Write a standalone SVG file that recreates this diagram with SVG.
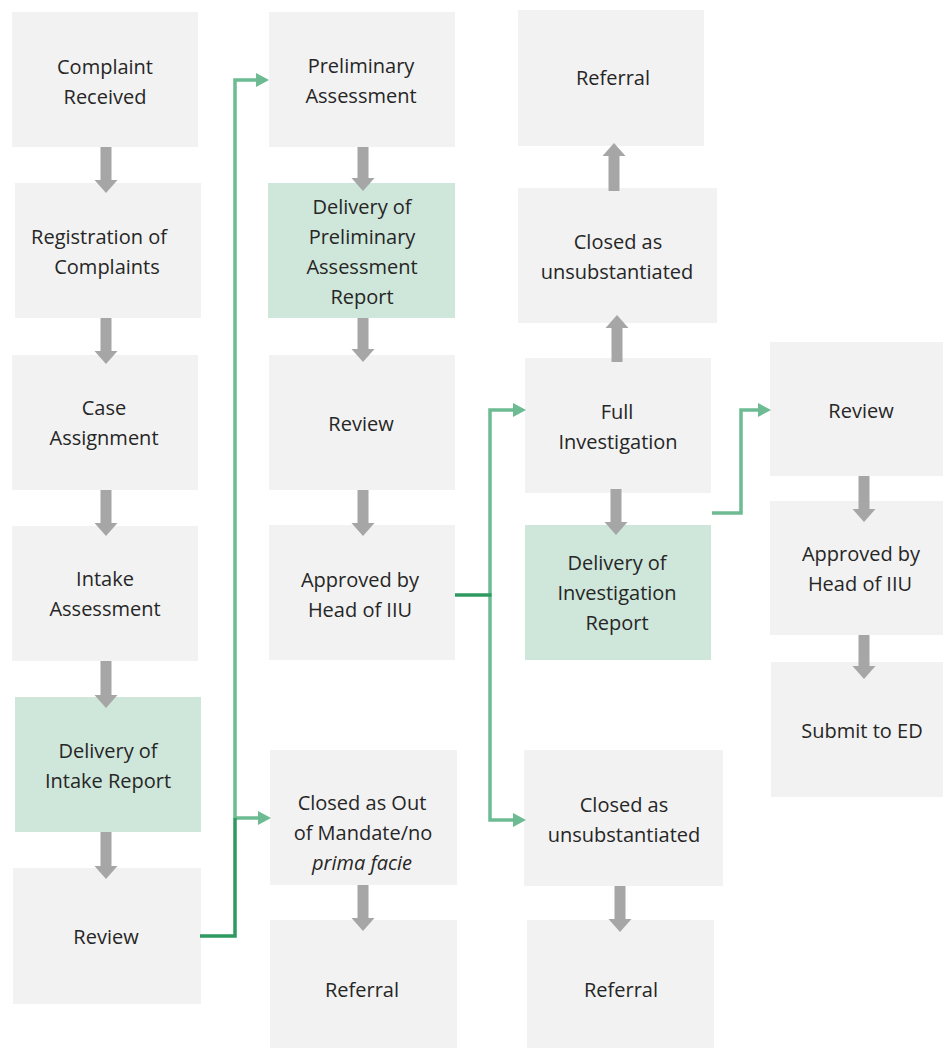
<svg xmlns="http://www.w3.org/2000/svg" width="943" height="1048" viewBox="0 0 943 1048">
<style>
.box{fill:#f2f2f2}
.grn{fill:#cfe6da}
.t{font-family:"Open Sans","Noto Sans","Liberation Sans",sans-serif;font-size:20px;fill:#262626;text-anchor:middle}
.ar{fill:#a6a6a6}
.cl{fill:none;stroke:#6dbb92;stroke-width:3.5}
.cd{fill:none;stroke:#2e9a60;stroke-width:3.5}
</style>
<defs>
<marker id="gh" markerUnits="userSpaceOnUse" markerWidth="14" markerHeight="14" refX="0" refY="7" orient="auto">
<path d="M0,0 L13,7 L0,14 Z" fill="#6dbb92"/>
</marker>
</defs>
<rect width="943" height="1048" fill="#ffffff"/>

<g id="n1"><rect class="box" x="12" y="12" width="186" height="135"/><text class="t" x="105" y="74">Complaint</text><text class="t" x="105" y="104">Received</text></g>
<g id="n2"><rect class="box" x="15" y="183" width="186" height="135"/><text class="t" x="99" y="244">Registration of</text><text class="t" x="107" y="274">Complaints</text></g>
<g id="n3"><rect class="box" x="12" y="355" width="186" height="135"/><text class="t" x="104" y="415">Case</text><text class="t" x="104" y="445">Assignment</text></g>
<g id="n4"><rect class="box" x="12" y="526" width="186" height="135"/><text class="t" x="105" y="586">Intake</text><text class="t" x="105" y="616">Assessment</text></g>
<g id="n5"><rect class="grn" x="15" y="697" width="186" height="135"/><text class="t" x="108" y="758">Delivery of</text><text class="t" x="108" y="788">Intake Report</text></g>
<g id="n6"><rect class="box" x="13" y="868" width="188" height="136"/><text class="t" x="106" y="944">Review</text></g>

<g id="n7"><rect class="box" x="269" y="12" width="186" height="135"/><text class="t" x="361" y="73">Preliminary</text><text class="t" x="361" y="103">Assessment</text></g>
<g id="n8"><rect class="grn" x="268" y="183" width="187" height="135"/><text class="t" x="362" y="214">Delivery of</text><text class="t" x="362" y="244">Preliminary</text><text class="t" x="362" y="274">Assessment</text><text class="t" x="362" y="304">Report</text></g>
<g id="n9"><rect class="box" x="269" y="355" width="186" height="135"/><text class="t" x="361" y="431">Review</text></g>
<g id="n10"><rect class="box" x="269" y="525" width="186" height="135"/><text class="t" x="360" y="587">Approved by</text><text class="t" x="360" y="617">Head of IIU</text></g>
<g id="n11"><rect class="box" x="270" y="750" width="187" height="135"/><text class="t" x="362" y="810">Closed as Out</text><text class="t" x="363" y="840">of Mandate/no</text><text class="t" x="362" y="870" font-style="italic">prima facie</text></g>
<g id="n12"><rect class="box" x="270" y="920" width="187" height="128"/><text class="t" x="362" y="997">Referral</text></g>

<g id="n13"><rect class="box" x="518" y="10" width="186" height="136"/><text class="t" x="613" y="85">Referral</text></g>
<g id="n14"><rect class="box" x="518" y="188" width="199" height="135"/><text class="t" x="618" y="249">Closed as</text><text class="t" x="617" y="279">unsubstantiated</text></g>
<g id="n15"><rect class="box" x="525" y="358" width="186" height="135"/><text class="t" x="617" y="419">Full</text><text class="t" x="618" y="449">Investigation</text></g>
<g id="n16"><rect class="grn" x="525" y="525" width="186" height="135"/><text class="t" x="617" y="570">Delivery of</text><text class="t" x="617" y="600">Investigation</text><text class="t" x="617" y="630">Report</text></g>
<g id="n17"><rect class="box" x="524" y="750" width="199" height="136"/><text class="t" x="624" y="812">Closed as</text><text class="t" x="624" y="842">unsubstantiated</text></g>
<g id="n18"><rect class="box" x="527" y="920" width="187" height="128"/><text class="t" x="621" y="997">Referral</text></g>

<g id="n19"><rect class="box" x="770" y="342" width="173" height="134"/><text class="t" x="861" y="418">Review</text></g>
<g id="n20"><rect class="box" x="770" y="501" width="173" height="134"/><text class="t" x="861" y="561">Approved by</text><text class="t" x="860" y="591">Head of IIU</text></g>
<g id="n21"><rect class="box" x="771" y="662" width="172" height="135"/><text class="t" x="862" y="738">Submit to ED</text></g>

<g id="connectors">
<path class="ar" d="M100.5,147 h11 v33 h6 l-11.5,13 l-11.5,-13 h6 z"/>
<path class="ar" d="M100.5,318 h11 v33 h6 l-11.5,13 l-11.5,-13 h6 z"/>
<path class="ar" d="M100.5,490 h11 v33 h6 l-11.5,13 l-11.5,-13 h6 z"/>
<path class="ar" d="M100.5,661 h11 v34 h6 l-11.5,13 l-11.5,-13 h6 z"/>
<path class="ar" d="M100.5,832 h11 v34 h6 l-11.5,13 l-11.5,-13 h6 z"/>

<path class="ar" d="M357.5,147 h11 v31 h6 l-11.5,13 l-11.5,-13 h6 z"/>
<path class="ar" d="M357.5,318 h11 v31 h6 l-11.5,13 l-11.5,-13 h6 z"/>
<path class="ar" d="M357.5,490 h11 v33 h6 l-11.5,13 l-11.5,-13 h6 z"/>
<path class="ar" d="M357.5,885 h11 v33 h6 l-11.5,13 l-11.5,-13 h6 z"/>

<path class="ar" d="M608.5,191 h11 v-35 h6 l-11.5,-13 l-11.5,13 h6 z"/>
<path class="ar" d="M611.5,362 h11 v-34 h6 l-11.5,-13 l-11.5,13 h6 z"/>
<path class="ar" d="M610.5,489 h11 v33 h6 l-11.5,13 l-11.5,-13 h6 z"/>
<path class="ar" d="M614.5,886 h11 v33 h6 l-11.5,13 l-11.5,-13 h6 z"/>

<path class="ar" d="M858.5,476 h11 v33 h6 l-11.5,13 l-11.5,-13 h6 z"/>
<path class="ar" d="M858.5,635 h11 v31 h6 l-11.5,13 l-11.5,-13 h6 z"/>

<path class="cl" d="M235,818 V80 H256" marker-end="url(#gh)"/>
<path class="cl" d="M235,818 H258" marker-end="url(#gh)"/>
<path class="cd" d="M200,936 H235 V818"/>

<path class="cl" d="M490,595 V410 H513" marker-end="url(#gh)"/>
<path class="cl" d="M490,595 V820 H513" marker-end="url(#gh)"/>
<path class="cd" d="M455,595 H491.5"/>

<path class="cl" d="M712,513 H741 V410 H758" marker-end="url(#gh)"/>
</g>
</svg>
